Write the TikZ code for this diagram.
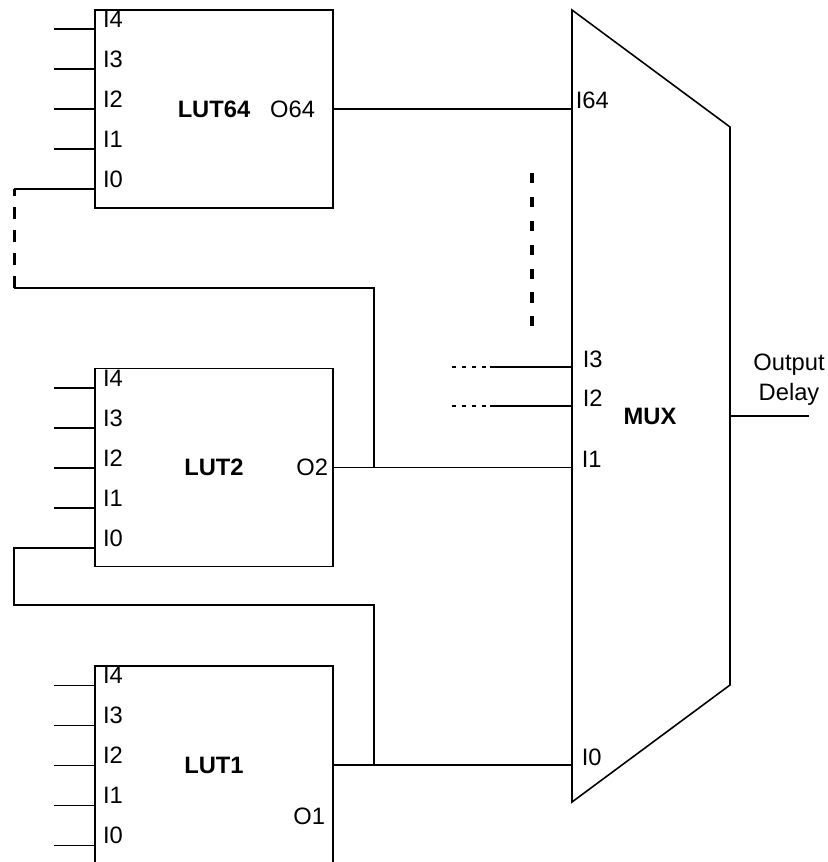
\documentclass[tikz,border=0pt]{standalone}
\usepackage{fontspec}
\setmainfont{Liberation Sans}
\usetikzlibrary{positioning, calc}

\begin{document}
\begin{tikzpicture}[
  line width=0.9pt,
  font=\fontsize{13.5}{17}\selectfont,
  lut/.style={draw,minimum width=4.76cm,minimum height=3.96cm,inner sep=0pt,
    font=\fontsize{13.5}{17}\selectfont\bfseries},
  pinlbl/.style={anchor=base west,inner sep=0pt},
  outlbl/.style={anchor=east,inner sep=0pt},
  skipdash/.style={line width=1.8pt,dash pattern=on 5.7pt off 7.9pt},
  chaindash/.style={line width=1.8pt,dash pattern=on 6.8pt off 6.3pt},
  thindash/.style={line width=0.7pt,dash pattern=on 2.5pt off 3.2pt},
]
\useasboundingbox (0,0) rectangle (16.54,-17.24);

% LUT blocks
\node[lut] (lut64) at (4.28,-2.18) {LUT64};
\node[lut, below=3.18cm of lut64] (lut2) {LUT2};
\node[lut, below=1.96cm of lut2] (lut1) {LUT1};

% pins and labels
\foreach \name in {lut64,lut2,lut1}{
  \foreach \i in {0,...,4}{
    \coordinate (\name-i\i) at ($(\name.north west)+(0,{-0.4-(4-\i)*0.8})$);
    \node[pinlbl] (\name-l\i) at ($(\name-i\i)+(0.16,0.03)$) {I\i};
  }
  \foreach \i in {1,...,4}{
    \coordinate (\name-s\i) at ($(\name-i\i)+(-0.8,0)$);
    \draw (\name-s\i) -- (\name-i\i);
  }
}
\coordinate (lut1-s0) at ($(lut1-i0)+(-0.8,0)$);
\draw (lut1-s0) -- (lut1-i0);

% output labels
\node[outlbl] (lut64-o) at ($(lut64.east)+(-0.36,0)$) {O64};
\node[outlbl] (lut2-o) at ($(lut2.east)+(-0.1,0)$) {O2};
\node[outlbl] (lut1-o) at ($(lut1.east)+(-0.16,-1.02)$) {O1};

% MUX
\coordinate (mux-tl) at (11.44,-0.2);
\coordinate (mux-tr) at (14.6,-2.54);
\coordinate (mux-br) at (14.6,-13.7);
\coordinate (mux-bl) at (11.44,-16.04);
\draw (mux-tl) -- (mux-tr) -- (mux-br) -- (mux-bl) -- cycle;
\node[font=\fontsize{13.5}{17}\selectfont\bfseries] (muxname) at (13,-8.32) {MUX};

\coordinate (mux-i64) at (lut64.east -| mux-tl);
\coordinate (mux-i3) at (11.44,-7.34);
\coordinate (mux-i2) at (11.44,-8.12);
\coordinate (mux-i1) at (lut2.east -| mux-tl);
\coordinate (mux-i0) at (lut1.east -| mux-tl);

\node[pinlbl] (mux-l64) at ($(mux-i64)+(0.06,0)$) {I64};
\node[pinlbl] (mux-l3) at ($(mux-i3)+(0.2,0)$) {I3};
\node[pinlbl] (mux-l2) at ($(mux-i2)+(0.2,0)$) {I2};
\node[pinlbl] (mux-l1) at ($(mux-i1)+(0.18,0)$) {I1};
\node[pinlbl] (mux-l0) at ($(mux-i0)+(0.18,0)$) {I0};

% output
\coordinate (mux-out) at (14.6,-8.32);
\coordinate (out-end) at (16.18,-8.32);
\draw (mux-out) -- (out-end);
\node[anchor=south,align=center,inner sep=0pt] (outtxt) at (15.78,-8.12) {Output\\Delay};

% LUT outputs to MUX
\coordinate (j2) at ($(lut2.east)+(0.8,0)$);
\coordinate (j1) at ($(lut1.east)+(0.8,0)$);
\draw (lut64.east) -- (mux-i64);
\draw (lut2.east) -- (mux-i1);
\draw (lut1.east) -- (mux-i0);

% chain LUT64 I0 <- LUT2 O2
\coordinate (fb64-a) at ($(lut64-i0)+(-1.6,0)$);
\coordinate (fb64-b) at ($(fb64-a)+(0,-1.98)$);
\coordinate (fb64-c) at (j2 |- fb64-b);
\draw (lut64-i0) -- (fb64-a);
\draw[chaindash] (fb64-b) -- (fb64-a);
\draw (fb64-b) -- (fb64-c) -- (j2);

% chain LUT2 I0 <- LUT1 O1
\coordinate (fb2-a) at ($(lut2-i0)+(-1.6,0)$);
\coordinate (fb2-b) at ($(fb2-a)+(0,-1.14)$);
\coordinate (fb2-c) at (j1 |- fb2-b);
\draw (lut2-i0) -- (fb2-a) -- (fb2-b) -- (fb2-c) -- (j1);

% omitted inputs
\coordinate (vd-top) at (10.64,-3.46);
\coordinate (vd-bot) at (10.64,-6.54);
\draw[skipdash] (vd-top) -- (vd-bot);

\coordinate (d3-a) at (9.04,-7.34);
\coordinate (d3-b) at (9.8,-7.34);
\draw[thindash] (d3-a) -- (d3-b);
\draw (d3-b) -- (mux-i3);
\coordinate (d2-a) at (9.04,-8.12);
\coordinate (d2-b) at (9.8,-8.12);
\draw[thindash] (d2-a) -- (d2-b);
\draw (d2-b) -- (mux-i2);

\end{tikzpicture}
\end{document}
